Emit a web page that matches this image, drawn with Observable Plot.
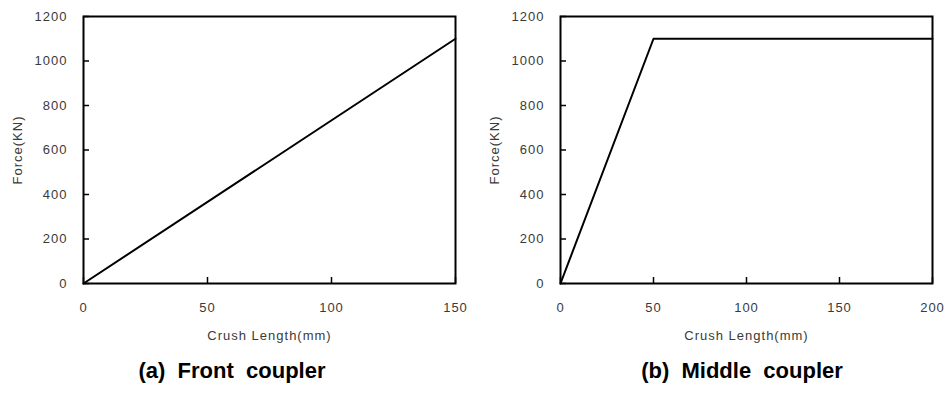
<!DOCTYPE html>
<html>
<head>
<meta charset="utf-8">
<script src="https://cdn.jsdelivr.net/npm/d3@7"></script>
<script src="https://cdn.jsdelivr.net/npm/@observablehq/plot@0.6"></script>
<style>
  html, body { margin: 0; padding: 0; background: #fff; }
  #wrap { position: relative; width: 949px; height: 405px; background: #fff; font-family: "Liberation Sans", Arial, sans-serif; }
  .panel { position: absolute; top: 0; }
  .cap { position: absolute; font-weight: bold; font-size: 22px; color: #000; text-align: center; white-space: pre; }
</style>
</head>
<body>
<div id="wrap">
  <div class="panel" id="left" style="left:0px"></div>
  <div class="panel" id="right" style="left:474px"></div>
  <div class="cap" id="capA" style="left:82px; width:300px; top:358px;"></div>
  <div class="cap" id="capB" style="left:592px; width:300px; top:358px;"></div>
</div>
<script>
// Data
const frontCrush = [0, 150];
const frontForce = [0, 1100];
const middleCrush = [0, 50, 200];
const middleForce = [0, 1100, 1100];
const yTicks = [0, 200, 400, 600, 800, 1000, 1200];
const frontXTicks = [0, 50, 100, 150];
const middleXTicks = [0, 50, 100, 150, 200];
const xLabel = "Crush Length(mm)";
const yLabel = "Force(KN)";
const captions = ["(a)  Front  coupler", "(b)  Middle  coupler"];

const W = 474, H = 345, MT = 16, MB = 62, TICK = 6;

function panel(xs, ys, xDomain, xTicks, marginLeft, marginRight) {
  const data = xs.map((x, i) => ({x, y: ys[i]}));
  const fmt = d => String(d);
  const innerW = W - marginLeft - marginRight;
  const innerH = H - MT - MB;
  return Plot.plot({
    width: W,
    height: H,
    marginLeft,
    marginRight,
    marginTop: MT,
    marginBottom: MB,
    style: {fontFamily: '"Liberation Sans", Arial, sans-serif', fontSize: "13px", color: "#3a3a3a", background: "#fff", letterSpacing: "1px", overflow: "visible"},
    x: {domain: xDomain, ticks: xTicks},
    y: {domain: [0, 1200], ticks: yTicks},
    marks: [
      // inward tick marks
      Plot.tickX(xTicks, {x: d => d, insetTop: innerH - TICK, stroke: "#000", strokeWidth: 1.5}),
      Plot.tickY(yTicks, {y: d => d, insetRight: innerW - TICK, stroke: "#000", strokeWidth: 1.5}),
      // labels
      Plot.axisX({ticks: xTicks, tickSize: 0, tickPadding: 19, tickFormat: fmt, label: xLabel, labelAnchor: "center", labelArrow: "none", labelOffset: 56, fontSize: 13}),
      Plot.axisY({ticks: yTicks, tickSize: 0, tickPadding: 16, tickFormat: fmt, label: yLabel, labelAnchor: "center", labelArrow: "none", labelOffset: 71, fontSize: 13}),
      Plot.line(data, {x: "x", y: "y", stroke: "#000", strokeWidth: 2}),
      Plot.frame({stroke: "#000", strokeWidth: 2})
    ]
  });
}

document.getElementById("left").appendChild(panel(frontCrush, frontForce, [0, 150], frontXTicks, 83, 19));
document.getElementById("right").appendChild(panel(middleCrush, middleForce, [0, 200], middleXTicks, 86, 16));
document.getElementById("capA").textContent = captions[0];
document.getElementById("capB").textContent = captions[1];
</script>
</body>
</html>
